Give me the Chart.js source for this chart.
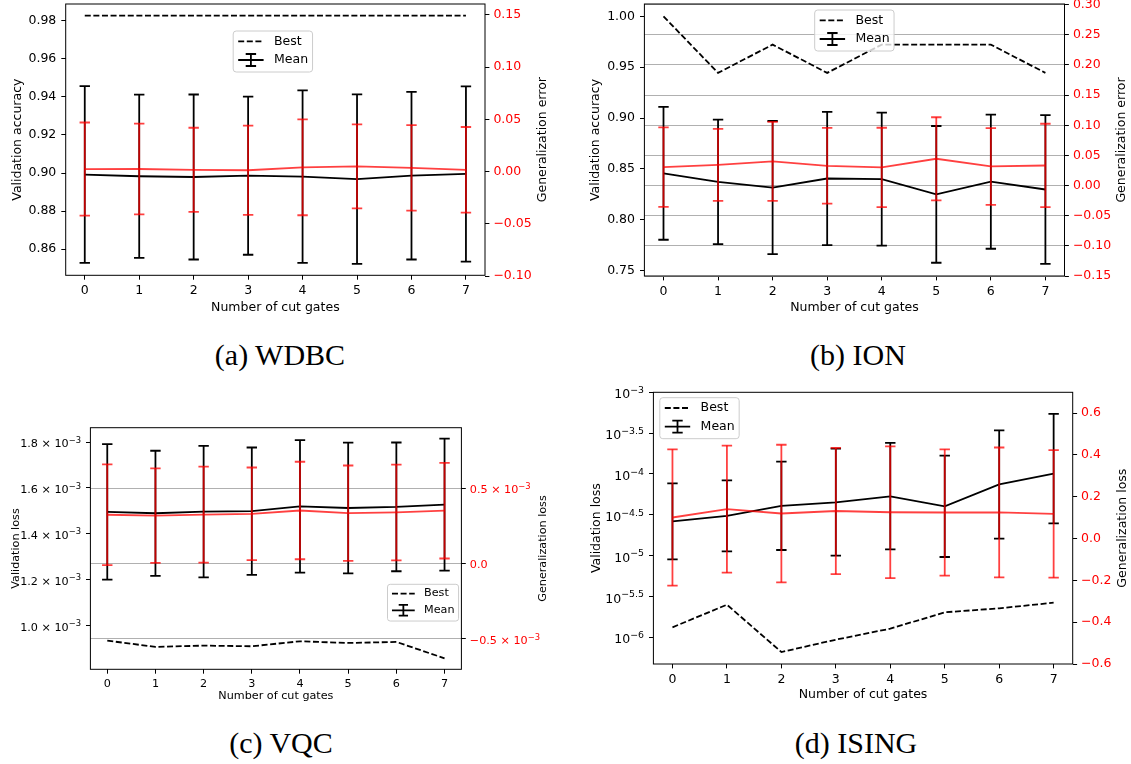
<!DOCTYPE html>
<html>
<head>
<meta charset="utf-8">
<script src="https://cdn.jsdelivr.net/npm/chart.js@4.4.1/dist/chart.umd.min.js"></script>
<style>
    body { margin: 0; background: #fff; width: 1131px; height: 764px; overflow: hidden; position: relative; }
    canvas { position: absolute; }
    .cap { position: absolute; font-family: "Liberation Serif", serif; font-size: 30px; line-height: 30px;
           white-space: nowrap; transform: translateX(-50%); color: #000; }
</style>
</head>
<body>
<canvas id="wdbc"></canvas>
<canvas id="ion"></canvas>
<canvas id="vqc"></canvas>
<canvas id="ising"></canvas>
<div class="cap" style="left:280px; top:340px">(a) WDBC</div>
<div class="cap" style="left:858px; top:340px">(b) ION</div>
<div class="cap" style="left:281px; top:728px">(c) VQC</div>
<div class="cap" style="left:856px; top:728px">(d) ISING</div>
<script>
"use strict";
const cutGates = [0, 1, 2, 3, 4, 5, 6, 7];

// (a) WDBC
const wdbcBest = [0.9828, 0.9828, 0.9828, 0.9828, 0.9828, 0.9828, 0.9828, 0.9828];
const wdbcMean = [0.8992, 0.8983, 0.8979, 0.8986, 0.8981, 0.8968, 0.8986, 0.8995];
const wdbcMeanErr = [0.0465, 0.0429, 0.0434, 0.0416, 0.0454, 0.0446, 0.0441, 0.0461];
const wdbcGen = [0.0024, 0.0025, 0.0017, 0.0013, 0.0041, 0.0050, 0.0036, 0.0017];
const wdbcGenErr = [0.0446, 0.0435, 0.0403, 0.0427, 0.0459, 0.0403, 0.0410, 0.0410];
const wdbcLeftTicks = [0.86, 0.88, 0.90, 0.92, 0.94, 0.96, 0.98];
const wdbcRightTicks = [-0.10, -0.05, 0, 0.05, 0.10, 0.15];

// (b) ION
const ionBest = [1.0, 0.9444, 0.9722, 0.9444, 0.9722, 0.9722, 0.9722, 0.9444];
const ionMean = [0.8457, 0.8373, 0.8317, 0.8406, 0.8400, 0.8250, 0.8375, 0.8298];
const ionMeanErr = [0.0653, 0.0612, 0.0654, 0.0654, 0.0653, 0.0672, 0.0659, 0.0730];
const ionGen = [0.0306, 0.0344, 0.0400, 0.0328, 0.0300, 0.0444, 0.0317, 0.0333];
const ionGenErr = [0.0658, 0.0597, 0.0655, 0.0628, 0.0659, 0.0689, 0.0636, 0.0692];
const ionLeftTicks = [0.75, 0.80, 0.85, 0.90, 0.95, 1.00];
const ionRightTicks = [-0.15, -0.10, -0.05, 0, 0.05, 0.10, 0.15, 0.20, 0.25, 0.30];

// (c) VQC
const vqcBest = [0.9332e-3, 0.9056e-3, 0.9114e-3, 0.9085e-3, 0.9303e-3, 0.9230e-3, 0.9274e-3, 0.8561e-3];
const vqcMean = [1.495e-3, 1.489e-3, 1.496e-3, 1.498e-3, 1.519e-3, 1.512e-3, 1.517e-3, 1.527e-3];
const vqcMeanErr = [0.296e-3, 0.273e-3, 0.287e-3, 0.278e-3, 0.289e-3, 0.285e-3, 0.281e-3, 0.288e-3];
const vqcGen = [0.323e-3, 0.317e-3, 0.324e-3, 0.329e-3, 0.351e-3, 0.333e-3, 0.338e-3, 0.350e-3];
const vqcGenErr = [0.334e-3, 0.313e-3, 0.318e-3, 0.307e-3, 0.323e-3, 0.316e-3, 0.317e-3, 0.317e-3];
const vqcLeftTicks = [1.0e-3, 1.2e-3, 1.4e-3, 1.6e-3, 1.8e-3];
const vqcRightTicks = [-0.5e-3, 0, 0.5e-3];

// (d) ISING
const isingBest = [1.326e-6, 2.51e-6, 6.61e-7, 9.36e-7, 1.277e-6, 2.024e-6, 2.265e-6, 2.657e-6];
const isingMean = [2.63e-5, 3.06e-5, 4.06e-5, 4.50e-5, 5.33e-5, 4.02e-5, 7.47e-5, 1.01e-4];
const isingMeanLow = [9.02e-6, 1.13e-5, 1.173e-5, 1.0e-5, 1.196e-5, 9.63e-6, 1.615e-5, 2.488e-5];
const isingMeanHigh = [7.69e-5, 8.37e-5, 1.416e-4, 2.042e-4, 2.397e-4, 1.677e-4, 3.425e-4, 5.43e-4];
const isingGen = [0.101, 0.141, 0.120, 0.132, 0.126, 0.125, 0.125, 0.118];
const isingGenErr = [0.326, 0.304, 0.329, 0.302, 0.315, 0.302, 0.311, 0.305];
const isingLeftExp = [-6, -5.5, -5, -4.5, -4, -3.5, -3];
const isingRightTicks = [-0.6, -0.4, -0.2, 0, 0.2, 0.4, 0.6];

const FONT = '"DejaVu Sans"';
const RED = "rgba(255, 0, 0, 0.75)";
const LW = 1.8;
const CAP = 5.2;
const TICK_LEN = 4.4;
const MINUS = "\u2212";

function points(ys) {
    return cutGates.map((x, i) => ({x: x, y: ys[i]}));
}
function minus(ys, err) { return ys.map((v, i) => v - err[i]); }
function plus(ys, err) { return ys.map((v, i) => v + err[i]); }

function fixed(d) {
    return v => {
        if(Math.abs(v) < 1e-12) return (0).toFixed(d);
        return (v < 0 ? MINUS : "") + Math.abs(v).toFixed(d);
    };
}

// draws errorbars right after their own line so the stacking follows the datasets
const errorBars = {
    id: "errorBars",
    afterDatasetDraw(chart, args) {
        const ds = chart.data.datasets[args.index];
        if(!ds.errLow) return;
        const ctx = chart.ctx;
        const xs = chart.scales.x;
        const ys = chart.scales[ds.yAxisID];
        ctx.save();
        ctx.strokeStyle = ds.borderColor;
        ctx.lineWidth = LW;
        ds.data.forEach((p, i) => {
            const px = xs.getPixelForValue(p.x);
            const lo = ys.getPixelForValue(ds.errLow[i]);
            const hi = ys.getPixelForValue(ds.errHigh[i]);
            ctx.beginPath();
            ctx.moveTo(px, lo); ctx.lineTo(px, hi);
            ctx.stroke();
            ctx.beginPath();
            ctx.moveTo(px - CAP, lo); ctx.lineTo(px + CAP, lo);
            ctx.moveTo(px - CAP, hi); ctx.lineTo(px + CAP, hi);
            ctx.stroke();
        });
        ctx.restore();
    }
};
Chart.register(errorBars);

function roundRect(ctx, x, y, w, h, r) {
    ctx.beginPath();
    ctx.moveTo(x + r, y);
    ctx.arcTo(x + w, y, x + w, y + h, r);
    ctx.arcTo(x + w, y + h, x, y + h, r);
    ctx.arcTo(x, y + h, x, y, r);
    ctx.arcTo(x, y, x + w, y, r);
    ctx.closePath();
}

function drawLegend(ctx, x, y, fs) {
    const k = fs / 12.5;
    ctx.font = `${fs}px ${FONT}`;
    const w = (5 + 25.4 + 10.4 + 4.5) * k + ctx.measureText("Mean").width;
    const h = 41 * k;
    roundRect(ctx, x, y, w, h, 3 * k);
    ctx.fillStyle = "rgba(255,255,255,0.8)";
    ctx.fill();
    ctx.strokeStyle = "#cccccc";
    ctx.lineWidth = 1;
    ctx.stroke();
    const hx0 = x + 5 * k, hx1 = hx0 + 25.4 * k, tx = hx1 + 10.4 * k;
    const r1 = y + 10.3 * k, r2 = y + 29 * k, mid = (hx0 + hx1) / 2;
    ctx.strokeStyle = "#000";
    ctx.lineWidth = LW;
    ctx.setLineDash([6, 2.6]);
    ctx.beginPath(); ctx.moveTo(hx0, r1); ctx.lineTo(hx1, r1); ctx.stroke();
    ctx.setLineDash([]);
    ctx.beginPath();
    ctx.moveTo(hx0, r2); ctx.lineTo(hx1, r2);
    ctx.moveTo(mid, r2 - 6 * k); ctx.lineTo(mid, r2 + 6 * k);
    ctx.moveTo(mid - CAP * k, r2 - 6 * k); ctx.lineTo(mid + CAP * k, r2 - 6 * k);
    ctx.moveTo(mid - CAP * k, r2 + 6 * k); ctx.lineTo(mid + CAP * k, r2 + 6 * k);
    ctx.stroke();
    ctx.fillStyle = "#000";
    ctx.textAlign = "left";
    ctx.textBaseline = "middle";
    ctx.fillText("Best", tx, r1);
    ctx.fillText("Mean", tx, r2);
}

// tick label made of a base and a superscript, e.g. 1.8 × 10^-3
function drawSupLabel(ctx, parts, xEdge, yTick, fs, alignRight, color) {
    const sfs = fs * 0.75, raise = fs * 0.42;
    ctx.font = `${fs}px ${FONT}`;
    const mainW = ctx.measureText(parts[0]).width;
    let supW = 0;
    if(parts[1]) {
        ctx.font = `${sfs}px ${FONT}`;
        supW = ctx.measureText(parts[1]).width;
    }
    const x0 = alignRight ? xEdge - mainW - supW : xEdge;
    const total = parts[1] ? raise + 0.729 * sfs : 0.729 * fs;
    const base = yTick + total / 2;
    ctx.fillStyle = color;
    ctx.textAlign = "left";
    ctx.textBaseline = "alphabetic";
    ctx.font = `${fs}px ${FONT}`;
    ctx.fillText(parts[0], x0, base);
    if(parts[1]) {
        ctx.font = `${sfs}px ${FONT}`;
        ctx.fillText(parts[1], x0 + mainW, base - raise);
    }
}

function overlay(o) {
    return {
        id: "overlay",
        afterDraw(chart) {
            const ctx = chart.ctx;
            const a = chart.chartArea;
            ctx.save();
            if(o.yParts) {
                const sc = chart.scales.y;
                sc.ticks.forEach(t => drawSupLabel(ctx, o.yParts(t.value), a.left - TICK_LEN - 5,
                    sc.getPixelForValue(t.value), o.fs, true, "#000"));
            }
            if(o.y2Parts) {
                const sc = chart.scales.y2;
                sc.ticks.forEach(t => drawSupLabel(ctx, o.y2Parts(t.value), a.right + TICK_LEN + 4,
                    sc.getPixelForValue(t.value), o.fs, false, "#ff0000"));
            }
            ctx.strokeStyle = "#000";
            ctx.lineWidth = 1;
            ctx.strokeRect(a.left, a.top, a.right - a.left, a.bottom - a.top);
            ctx.translate(o.y2TitleX - o.box[0], (a.top + a.bottom) / 2);
            ctx.rotate(-Math.PI / 2);
            ctx.font = `${o.fs}px ${FONT}`;
            ctx.fillStyle = "#000";
            ctx.textAlign = "center";
            ctx.textBaseline = "middle";
            ctx.fillText(o.y2Title, 0, 0);
            ctx.setTransform(1, 0, 0, 1, 0, 0);
            drawLegend(ctx, o.legend[0] - o.box[0], o.legend[1] - o.box[1], o.fs);
            ctx.restore();
        }
    };
}

function makeChart(id, o) {
    const [bx, by, bw, bh] = o.box;
    const [L, T, R, B] = o.plot;
    const canvas = document.getElementById(id);
    canvas.width = bw;
    canvas.height = bh;
    canvas.style.left = bx + "px";
    canvas.style.top = by + "px";
    const font = {family: FONT, size: o.fs};
    const fixedTicks = vals => scale => { scale.ticks = vals.map(v => ({value: v})); };

    const datasets = [
        {label: "gen", data: points(o.gen), yAxisID: "y2", borderColor: RED,
         errLow: o.genLow, errHigh: o.genHigh},
        {label: "mean", data: points(o.mean), yAxisID: "y", borderColor: "#000",
         errLow: o.meanLow, errHigh: o.meanHigh},
        {label: "best", data: points(o.best), yAxisID: "y", borderColor: "#000", borderDash: [6, 2.6]}
    ];
    datasets.forEach(d => { d.borderWidth = LW; d.pointRadius = 0; d.tension = 0; d.fill = false; });

    return new Chart(canvas, {
        type: "line",
        data: {datasets: datasets},
        options: {
            responsive: false,
            animation: false,
            devicePixelRatio: 1,
            layout: {padding: {top: T - by, left: 0, right: 0, bottom: 0}},
            plugins: {legend: {display: false}, tooltip: {enabled: false}},
            scales: {
                x: {
                    type: "linear", min: -0.35, max: 7.35,
                    afterBuildTicks: fixedTicks(cutGates),
                    afterFit: s => { s.height = by + bh - B; },
                    grid: {drawOnChartArea: false, tickLength: TICK_LEN, color: "#000"},
                    border: {display: false},
                    ticks: {color: "#000", font: font, padding: 4, autoSkip: false, maxRotation: 0},
                    title: {display: true, text: "Number of cut gates", color: "#000", font: font, padding: 0}
                },
                y: {
                    type: o.yType, position: "left", min: o.yMin, max: o.yMax,
                    afterBuildTicks: fixedTicks(o.yTicks),
                    afterFit: s => { s.width = L - bx; },
                    grid: {drawOnChartArea: false, tickLength: TICK_LEN, color: "#000"},
                    border: {display: false},
                    ticks: {display: !o.yParts, color: "#000", font: font, padding: 5, autoSkip: false,
                            callback: o.yFmt || (v => v)},
                    title: {display: true, text: o.yTitle, color: "#000", font: font, padding: 0}
                },
                y2: {
                    type: "linear", position: "right", min: o.y2Min, max: o.y2Max,
                    afterBuildTicks: fixedTicks(o.y2Ticks),
                    afterFit: s => { s.width = bx + bw - R; },
                    grid: {drawOnChartArea: !!o.y2Grid, color: "#b0b0b0", lineWidth: 1,
                           tickColor: "#000", tickLength: TICK_LEN},
                    border: {display: false},
                    ticks: {display: !o.y2Parts, color: "#ff0000", font: font, padding: 4, autoSkip: false,
                            callback: o.y2Fmt || (v => v)}
                }
            }
        },
        plugins: [overlay(o)]
    });
}

makeChart("wdbc", {
    box: [10, -10, 550, 325], plot: [65.7, 4, 485, 275.3], fs: 12.5,
    best: wdbcBest, mean: wdbcMean, meanLow: minus(wdbcMean, wdbcMeanErr), meanHigh: plus(wdbcMean, wdbcMeanErr),
    gen: wdbcGen, genLow: minus(wdbcGen, wdbcGenErr), genHigh: plus(wdbcGen, wdbcGenErr),
    yType: "linear", yMin: 0.8462, yMax: 0.9889, yTicks: wdbcLeftTicks, yFmt: fixed(2),
    y2Min: -0.0993, y2Max: 0.1605, y2Ticks: wdbcRightTicks, y2Fmt: fixed(2),
    yTitle: "Validation accuracy", y2Title: "Generalization error", y2TitleX: 542.7,
    legend: [233.2, 31]
});

makeChart("ion", {
    box: [588, -10, 543, 325], plot: [644.4, 4, 1064.5, 276], fs: 12.5,
    best: ionBest, mean: ionMean, meanLow: minus(ionMean, ionMeanErr), meanHigh: plus(ionMean, ionMeanErr),
    gen: ionGen, genLow: minus(ionGen, ionGenErr), genHigh: plus(ionGen, ionGenErr),
    yType: "linear", yMin: 0.7448, yMax: 1.0121, yTicks: ionLeftTicks, yFmt: fixed(2),
    y2Min: -0.15, y2Max: 0.3011, y2Ticks: ionRightTicks, y2Fmt: fixed(2), y2Grid: true,
    yTitle: "Validation accuracy", y2Title: "Generalization error", y2TitleX: 1121.7,
    legend: [814.7, 10]
});

makeChart("vqc", {
    box: [9, 380, 551, 323], plot: [90.4, 427.7, 461.4, 669.3], fs: 11.2,
    best: vqcBest, mean: vqcMean, meanLow: minus(vqcMean, vqcMeanErr), meanHigh: plus(vqcMean, vqcMeanErr),
    gen: vqcGen, genLow: minus(vqcGen, vqcGenErr), genHigh: plus(vqcGen, vqcGenErr),
    yType: "linear", yMin: 0.808e-3, yMax: 1.8625e-3, yTicks: vqcLeftTicks,
    yParts: v => [(v * 1e3).toFixed(1) + " \u00d7 10", MINUS + "3"],
    y2Min: -0.7009e-3, y2Max: 0.8995e-3, y2Ticks: vqcRightTicks, y2Grid: true,
    y2Parts: v => Math.abs(v) < 1e-12 ? ["0.0"] : [(v < 0 ? MINUS : "") + Math.abs(v * 1e3).toFixed(1) + " \u00d7 10", MINUS + "3"],
    yTitle: "Validation loss", y2Title: "Generalization loss", y2TitleX: 543.2,
    legend: [387.5, 584.3]
});

makeChart("ising", {
    box: [589, 380, 542, 322], plot: [653.4, 392.3, 1072.7, 664], fs: 12.5,
    best: isingBest, mean: isingMean, meanLow: isingMeanLow, meanHigh: isingMeanHigh,
    gen: isingGen, genLow: minus(isingGen, isingGenErr), genHigh: plus(isingGen, isingGenErr),
    yType: "logarithmic", yMin: Math.pow(10, -6.3265), yMax: 1e-3, yTicks: isingLeftExp.map(e => Math.pow(10, e)),
    yParts: v => ["10", MINUS + String(Math.abs(Math.round(Math.log10(v) * 2) / 2))],
    y2Min: -0.6, y2Max: 0.7, y2Ticks: isingRightTicks, y2Fmt: fixed(1),
    yTitle: "Validation loss", y2Title: "Generalization loss", y2TitleX: 1122.7,
    legend: [659.8, 397.7]
});
</script>
</body>
</html>
